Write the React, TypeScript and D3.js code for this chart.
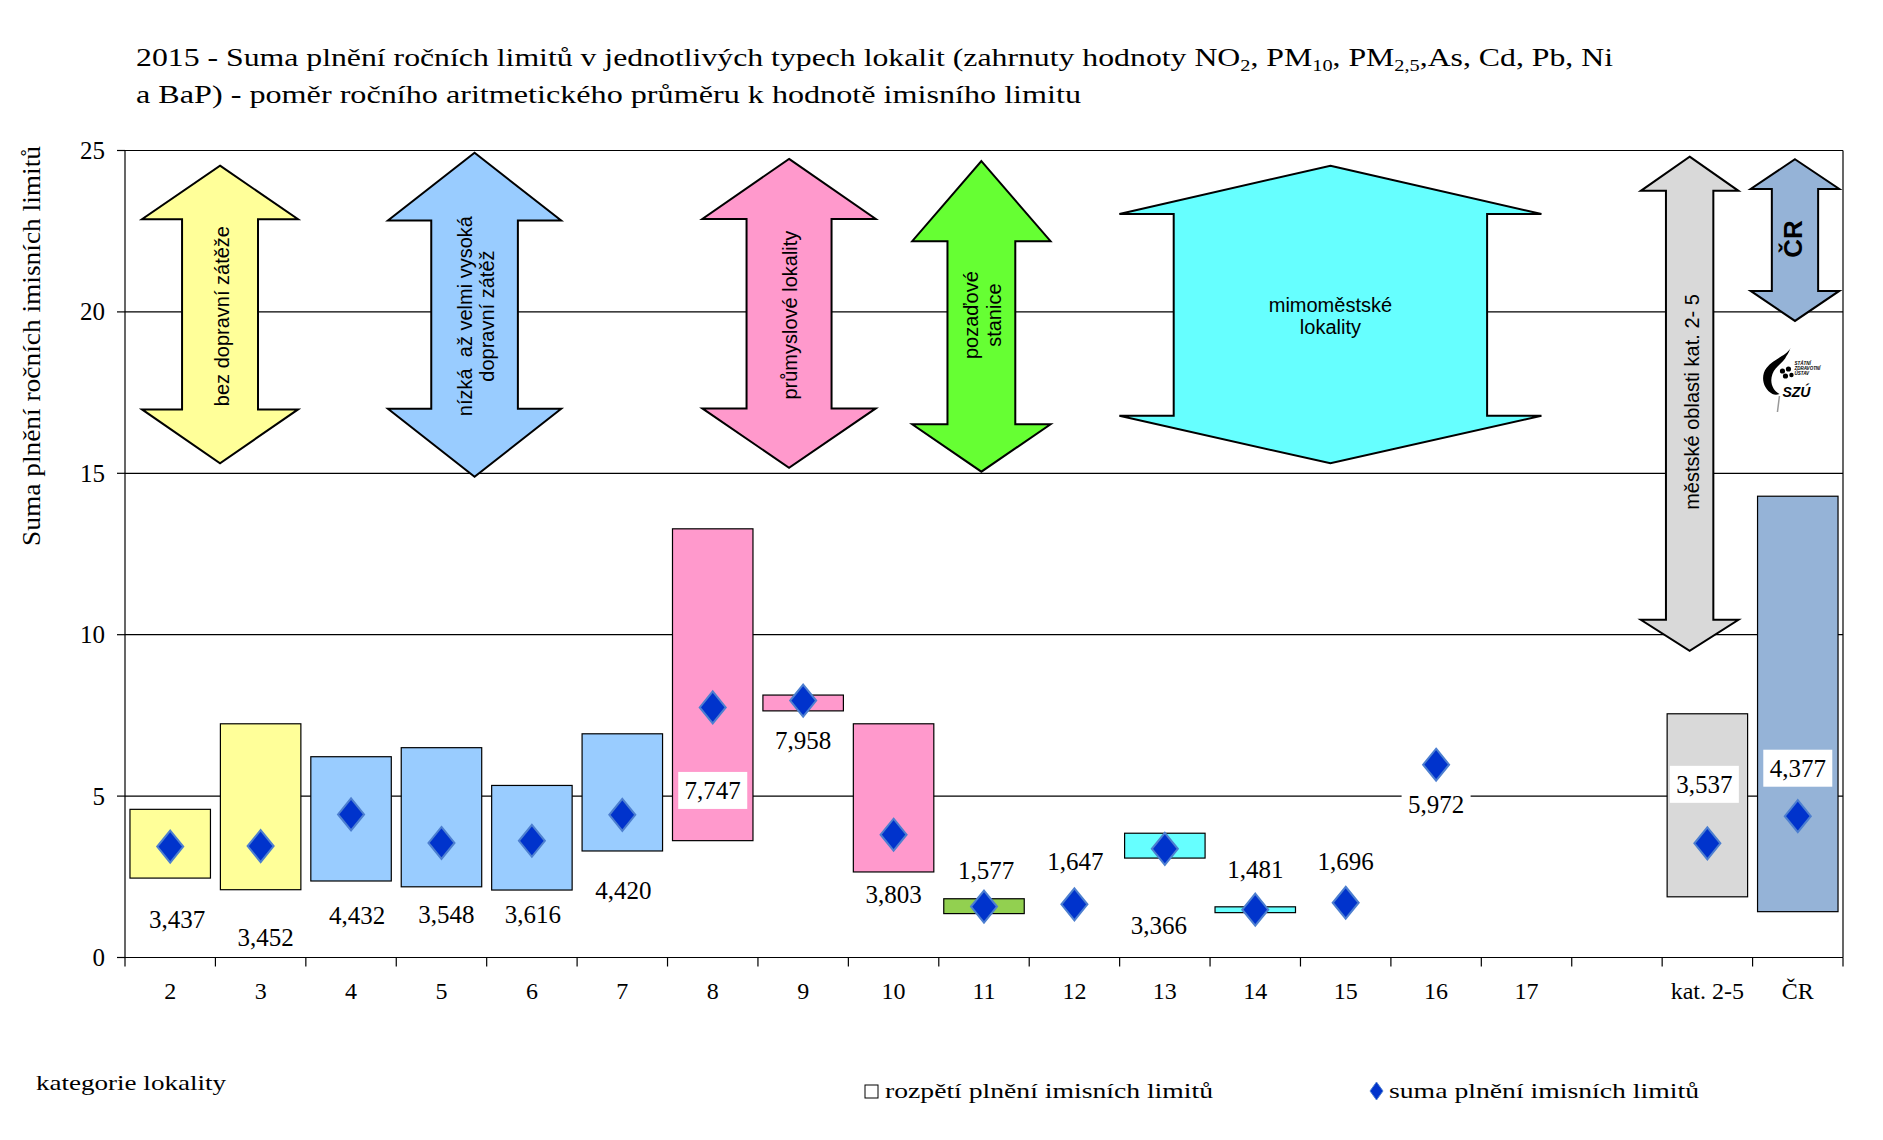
import React from "react";
import * as d3 from "d3";

// ---------- data ----------
const categories = ["2", "3", "4", "5", "6", "7", "8", "9", "10", "11", "12", "13", "14", "15", "16", "17", "", "kat. 2-5", "ČR"];
const rangeMin = [2.46, 2.1, 2.37, 2.19, 2.09, 3.3, 3.62, 7.64, 2.65, 1.36, null, 3.08, 1.39, null, null, null, null, 1.88, 1.42];
const rangeMax = [4.59, 7.24, 6.22, 6.5, 5.33, 6.93, 13.28, 8.13, 7.24, 1.82, null, 3.85, 1.57, null, null, null, null, 7.55, 14.29];
const sumValues = [3.437, 3.452, 4.432, 3.548, 3.616, 4.42, 7.747, 7.958, 3.803, 1.577, 1.647, 3.366, 1.481, 1.696, 5.972, null, null, 3.537, 4.377];
const yTicks = [0, 5, 10, 15, 20, 25];

// ---------- styles / layout (separate from data) ----------
const boxFill = ["#ffff99", "#ffff99", "#99ccff", "#99ccff", "#99ccff", "#99ccff", "#ff99cc", "#ff99cc", "#ff99cc", "#92d050", null, "#66ffff", "#66ffff", null, null, null, null, "#d9d9d9", "#95b3d7"];
const labelDy = [73, 91, 101, 72, 74, 76, 83, 40, 60, -36, -43, 77, -40, -41, 40, 0, 0, -59, -48];
const labelDx = [7, 5, 6, 5, 1, 1, 0, 0, 0, 2, 1, -6, 0, 0, 0, 0, 0, -3, 0];
const labelBg = [false, false, false, false, false, false, true, false, false, false, false, false, false, false, true, false, false, true, true];

// annotation arrows: x in category-slot units, y in value units
const arrows = [
  { fill: "#ffff99", cx: 1.051, head: 0.863, shaft: 0.42, tipTop: 24.53, baseTop: 22.87, baseBot: 16.98, tipBot: 15.31, lines: ["bez dopravní zátěže"], rotate: true, textY: 19.87, lineDx: [2], size: 20, bold: false },
  { fill: "#99ccff", cx: 3.866, head: 0.958, shaft: 0.479, tipTop: 24.93, baseTop: 22.83, baseBot: 17.0, tipBot: 14.89, lines: ["nízká  až velmi vysoká", "dopravní zátěž"], rotate: true, textY: 19.87, lineDx: [-10, 12], size: 20, bold: false },
  { fill: "#ff99cc", cx: 7.344, head: 0.959, shaft: 0.47, tipTop: 24.74, baseTop: 22.88, baseBot: 17.01, tipBot: 15.17, lines: ["průmyslové lokality"], rotate: true, textY: 19.9, lineDx: [1], size: 20, bold: false },
  { fill: "#66ff33", cx: 9.471, head: 0.765, shaft: 0.375, tipTop: 24.67, baseTop: 22.19, baseBot: 16.52, tipBot: 15.05, lines: ["pozaďové", "stanice"], rotate: true, textY: 19.9, lineDx: [-10, 13], size: 20, bold: false },
  { fill: "#66ffff", cx: 13.331, head: 2.334, shaft: 1.733, tipTop: 24.53, baseTop: 23.03, baseBot: 16.78, tipBot: 15.31, lines: ["mimoměstské", "lokality"], rotate: false, textY: 19.87, lineDx: [-11, 11], size: 20, bold: false },
  { fill: "#d9d9d9", cx: 17.304, head: 0.54, shaft: 0.262, tipTop: 24.81, baseTop: 23.75, baseBot: 10.46, tipBot: 9.5, lines: ["městské oblasti kat. 2- 5"], rotate: true, textY: 17.21, lineDx: [2], size: 20, bold: false },
  { fill: "#95b3d7", cx: 18.469, head: 0.49, shaft: 0.256, tipTop: 24.73, baseTop: 23.81, baseBot: 20.65, tipBot: 19.72, lines: ["ČR"], rotate: true, textY: 22.26, lineDx: [-2], size: 26, bold: true },
];

const W = 1883;
const H = 1140;
const plotLeft = 125;
const plotRight = 1843;
const plotTop = 150.5;
const plotBottom = 957.5;

const serif = "'Palatino Linotype', 'Book Antiqua', Palatino, 'Liberation Serif', serif";
const sans = "Arial, 'Liberation Sans', sans-serif";

const fmt = d3.formatLocale({ decimal: ",", thousands: " ", grouping: [3], currency: ["", ""] }).format(".3f");

export default function App() {
  const x = d3.scaleBand<number>().domain(categories.map((_, i) => i)).range([plotLeft, plotRight]).padding(0);
  const slot = d3.scaleLinear().domain([0, categories.length]).range([plotLeft, plotRight]);
  const y = d3.scaleLinear().domain([0, 25]).range([plotBottom, plotTop]);
  const step = x.step();
  const cx = (i: number) => (x(i) as number) + step / 2;

  const arrowPath = (a: typeof arrows[number]) => {
    const c = slot(a.cx);
    const h = slot(a.head) - slot(0);
    const s = slot(a.shaft) - slot(0);
    const pts: [number, number][] = [
      [c, y(a.tipTop)],
      [c + h, y(a.baseTop)],
      [c + s, y(a.baseTop)],
      [c + s, y(a.baseBot)],
      [c + h, y(a.baseBot)],
      [c, y(a.tipBot)],
      [c - h, y(a.baseBot)],
      [c - s, y(a.baseBot)],
      [c - s, y(a.baseTop)],
      [c - h, y(a.baseTop)],
    ];
    return (d3.line()(pts) as string) + "Z";
  };

  // logo anchor
  const logoX = slot(18.43) - 31;
  const logoY = y(17.89) - 32;

  return (
    <div style={{ position: "absolute", left: 0, top: 0, width: W, height: H, background: "#fff" }}>
      <svg width={W} height={H} style={{ display: "block" }}>
        <rect x={0} y={0} width={W} height={H} fill="#fff" />
        {/* title */}
        <text x={136} y={66} fontFamily={serif} fontSize={25} fill="#000" textLength={1477} lengthAdjust="spacingAndGlyphs">
          <tspan>2015 - Suma plnění ročních limitů v jednotlivých typech lokalit (zahrnuty hodnoty NO</tspan>
          <tspan fontSize={16} dy={5}>2</tspan>
          <tspan dy={-5}>, PM</tspan>
          <tspan fontSize={16} dy={5}>10</tspan>
          <tspan dy={-5}>, PM</tspan>
          <tspan fontSize={16} dy={5}>2,5</tspan>
          <tspan dy={-5}>,As, Cd, Pb, Ni</tspan>
        </text>
        <text x={136} y={103} fontFamily={serif} fontSize={25} fill="#000" textLength={945} lengthAdjust="spacingAndGlyphs">
          a BaP) - poměr ročního aritmetického průměru k hodnotě imisního limitu
        </text>

        {/* gridlines */}
        {yTicks.filter((t) => t > 0).map((t) => (
          <line key={t} x1={plotLeft} x2={plotRight} y1={y(t)} y2={y(t)} stroke="#000" strokeWidth={1.2} />
        ))}

        {/* annotation arrows */}
        {arrows.map((a, k) => {
          const c = slot(a.cx);
          const ty = y(a.textY);
          return (
            <g key={k}>
              <path d={arrowPath(a)} fill={a.fill} stroke="#000" strokeWidth={2} strokeLinejoin="miter" />
              {a.lines.map((ln, j) =>
                a.rotate ? (
                  <text
                    key={j}
                    transform={`translate(${c + a.lineDx[j]},${ty}) rotate(-90)`}
                    textAnchor="middle"
                    dominantBaseline="central"
                    fontFamily={sans}
                    fontSize={a.size}
                    fontWeight={a.bold ? "bold" : "normal"}
                    fill="#000"
                    style={{ whiteSpace: "pre" }}
                  >
                    {ln}
                  </text>
                ) : (
                  <text key={j} x={c} y={ty + a.lineDx[j]} textAnchor="middle" dominantBaseline="central" fontFamily={sans} fontSize={a.size} fill="#000">
                    {ln}
                  </text>
                )
              )}
            </g>
          );
        })}

        {/* logo SZU */}
        <g transform={`translate(${logoX},${logoY})`}>
          <line x1={19} y1={48} x2={17} y2={64} stroke="#999" strokeWidth={1.5} />
          <path d="M30,0 C26,8 14,10 6,20 C0,28 2,40 12,46 C14,47 17,47 19,46 C12,42 9,34 12,26 C15,18 24,14 26,8 C28,5 29,3 30,0 Z" fill="#000" />
          <circle cx={22} cy={23} r={2.6} fill="#000" />
          <circle cx={28} cy={21} r={2.6} fill="#000" />
          <circle cx={25} cy={28} r={2.6} fill="#000" />
          <circle cx={31} cy={27} r={2.2} fill="#000" />
          <text x={34} y={17} fontFamily={sans} fontSize={4.5} fontWeight="bold" fontStyle="italic">STÁTNÍ</text>
          <text x={34} y={22} fontFamily={sans} fontSize={4.5} fontWeight="bold" fontStyle="italic">ZDRAVOTNÍ</text>
          <text x={34} y={27} fontFamily={sans} fontSize={4.5} fontWeight="bold" fontStyle="italic">ÚSTAV</text>
          <text x={22} y={49} fontFamily={sans} fontSize={14} fontWeight="bold" fontStyle="italic">SZÚ</text>
        </g>

        {/* axes */}
        <line x1={plotLeft} x2={plotLeft} y1={plotTop} y2={plotBottom} stroke="#000" strokeWidth={1.2} />
        <line x1={plotRight} x2={plotRight} y1={plotTop} y2={plotBottom} stroke="#000" strokeWidth={1.2} />
        <line x1={plotLeft} x2={plotRight} y1={plotBottom} y2={plotBottom} stroke="#000" strokeWidth={1.2} />
        {yTicks.map((t) => (
          <g key={t}>
            <line x1={plotLeft - 8} x2={plotLeft} y1={y(t)} y2={y(t)} stroke="#000" strokeWidth={1.2} />
            <text x={105} y={y(t)} textAnchor="end" dominantBaseline="central" fontFamily={serif} fontSize={25} fill="#000">
              {t}
            </text>
          </g>
        ))}
        {d3.range(categories.length + 1).map((i) => (
          <line key={i} x1={slot(i)} x2={slot(i)} y1={plotBottom} y2={plotBottom + 9} stroke="#000" strokeWidth={1.2} />
        ))}
        {categories.map((c, i) => (
          <text key={i} x={cx(i)} y={999} textAnchor="middle" fontFamily={serif} fontSize={24} fill="#000">
            {c}
          </text>
        ))}
        <text
          transform={`translate(40,346) rotate(-90)`}
          textAnchor="middle"
          fontFamily={serif}
          fontSize={25}
          fill="#000"
          textLength={400}
          lengthAdjust="spacingAndGlyphs"
        >
          Suma plnění ročních imisních limitů
        </text>

        {/* range boxes */}
        {categories.map((_, i) =>
          rangeMin[i] != null && rangeMax[i] != null ? (
            <rect
              key={i}
              x={(x(i) as number) + step * 0.055}
              width={step * 0.89}
              y={y(rangeMax[i] as number)}
              height={y(rangeMin[i] as number) - y(rangeMax[i] as number)}
              fill={boxFill[i] as string}
              stroke="#000"
              strokeWidth={1.2}
            />
          ) : null
        )}

        {/* diamonds */}
        {categories.map((_, i) =>
          sumValues[i] != null ? (
            <path
              key={i}
              d={`M${cx(i)},${y(sumValues[i] as number) - 16} L${cx(i) + 13},${y(sumValues[i] as number)} L${cx(i)},${y(sumValues[i] as number) + 16} L${cx(i) - 13},${y(sumValues[i] as number)} Z`}
              fill="#0033cc"
              stroke="#4d7fd0"
              strokeWidth={2}
            />
          ) : null
        )}

        {/* value labels */}
        {categories.map((_, i) => {
          const v = sumValues[i];
          if (v == null) return null;
          const lx = cx(i) + labelDx[i];
          const ly = y(v) + labelDy[i];
          return (
            <g key={i}>
              {labelBg[i] ? <rect x={lx - 34.5} y={ly - 18.5} width={69} height={37} fill="#fff" /> : null}
              <text x={lx} y={ly} textAnchor="middle" dominantBaseline="central" fontFamily={serif} fontSize={25} fill="#000">
                {fmt(v)}
              </text>
            </g>
          );
        })}

        {/* bottom texts / legend */}
        <text x={36} y={1090} fontFamily={serif} fontSize={22} fill="#000" textLength={190} lengthAdjust="spacingAndGlyphs">
          kategorie lokality
        </text>
        <rect x={865} y={1085} width={13} height={13} fill="#fff" stroke="#000" strokeWidth={1} />
        <text x={885} y={1098} fontFamily={serif} fontSize={22} fill="#000" textLength={328} lengthAdjust="spacingAndGlyphs">
          rozpětí plnění imisních limitů
        </text>
        <path d="M1376.5,1082 L1383,1091 L1376.5,1100 L1370,1091 Z" fill="#0033cc" stroke="#4d7fd0" strokeWidth={1} />
        <text x={1389} y={1098} fontFamily={serif} fontSize={22} fill="#000" textLength={310} lengthAdjust="spacingAndGlyphs">
          suma plnění imisních limitů
        </text>
      </svg>
    </div>
  );
}
